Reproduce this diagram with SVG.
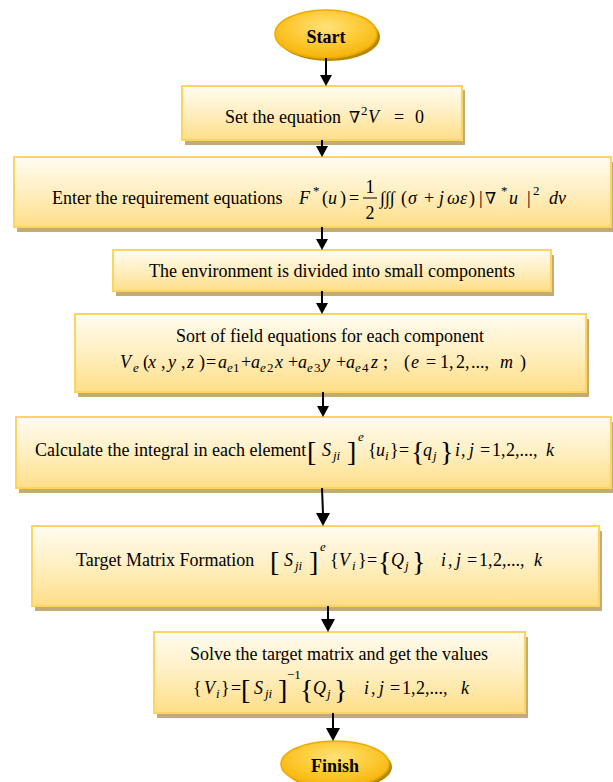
<svg xmlns="http://www.w3.org/2000/svg" width="613" height="782" viewBox="0 0 613 782">
<style>
text{font-family:"Liberation Serif","Times New Roman",serif;font-size:18px;fill:#000}
.b{font-weight:bold}
.i{font-style:italic}
.s{font-size:13px}
.br{font-size:28px}
.nab{font-family:"DejaVu Serif","Liberation Serif",serif;font-size:16px}
.box{fill:url(#boxGrad);stroke:#fcd45e;stroke-width:2}
.sh{fill:#c3ab78}
.ell{fill:url(#ellGrad);stroke:#eeaa00;stroke-width:1.5}
.esh{fill:#b48b00}
.con line{stroke:#000;stroke-width:2}
.con polygon{fill:#000}
</style>
<defs>
<linearGradient id="boxGrad" x1="0" y1="0" x2="0" y2="1">
<stop offset="0" stop-color="#fffcf0"/>
<stop offset="0.45" stop-color="#fff0c6"/>
<stop offset="1" stop-color="#fede88"/>
</linearGradient>
<radialGradient id="ellGrad" cx="0.5" cy="0.35" r="0.7">
<stop offset="0" stop-color="#ffe27a"/>
<stop offset="0.5" stop-color="#fdca35"/>
<stop offset="1" stop-color="#f4b000"/>
</radialGradient>
</defs>

<g id="start">
<ellipse class="esh" cx="329" cy="37" rx="51" ry="24"/>
<ellipse class="ell" cx="326" cy="34" rx="51" ry="24"/>
<text class="b" x="326" y="43" text-anchor="middle">Start</text>
</g>

<g id="n1">
<rect class="sh" x="185" y="90" width="280" height="55"/>
<rect class="box" x="182" y="86" width="280" height="54"/>
<text x="225" y="123">Set the equation<tspan class="nab" x="349">∇</tspan><tspan class="s" x="361" y="115">2</tspan><tspan class="i" x="368" y="123">V</tspan><tspan x="394">=</tspan><tspan x="415">0</tspan></text>
</g>

<g id="n2">
<rect class="sh" x="17" y="162" width="597" height="70"/>
<rect class="box" x="14" y="157" width="597" height="70"/>
<text x="52" y="204">Enter the requirement equations<tspan class="i" x="299">F</tspan><tspan class="s" x="313" y="195">*</tspan><tspan x="322" y="204">(</tspan><tspan class="i" x="328">u</tspan><tspan x="340">)</tspan><tspan x="349">=</tspan></text>
<text x="370" y="193" text-anchor="middle">1</text>
<line x1="363" y1="198" x2="377" y2="198" stroke="#000" stroke-width="1"/>
<text x="370" y="219" text-anchor="middle">2</text>
<text x="380" y="204">∫∫∫<tspan x="401">(</tspan><tspan class="i" x="408">σ</tspan><tspan x="424">+</tspan><tspan class="i" x="439">j</tspan><tspan class="i" x="447">ω</tspan><tspan class="i" x="460">ε</tspan><tspan x="469">)</tspan><tspan x="479">|</tspan><tspan class="nab" x="485">∇</tspan><tspan class="s" x="501" y="195">*</tspan><tspan class="i" x="509" y="204">u</tspan><tspan x="527">|</tspan><tspan class="s" x="533" y="195">2</tspan><tspan class="i" x="549" y="204">dv</tspan></text>
</g>

<g id="n3">
<rect class="sh" x="116" y="255" width="438" height="41"/>
<rect class="box" x="113" y="250" width="438" height="41"/>
<text x="332" y="277" text-anchor="middle">The environment is divided into small components</text>
</g>

<g id="n4">
<rect class="sh" x="78" y="319" width="511" height="78"/>
<rect class="box" x="75" y="314" width="511" height="78"/>
<text x="330" y="342" text-anchor="middle">Sort of field equations for each component</text>
<text x="120" y="368"><tspan class="i">V</tspan><tspan class="s i" x="133" y="372">e</tspan><tspan x="143" y="368">(</tspan><tspan class="i" x="148">x</tspan><tspan x="161">,</tspan><tspan class="i" x="168">y</tspan><tspan x="181">,</tspan><tspan class="i" x="187">z</tspan><tspan x="199">)</tspan><tspan x="206">=</tspan><tspan class="i" x="218">a</tspan><tspan class="s i" x="227" y="372">e</tspan><tspan class="s" x="233">1</tspan><tspan x="241" y="368">+</tspan><tspan class="i" x="251">a</tspan><tspan class="s i" x="260" y="372">e</tspan><tspan class="s" x="267">2</tspan><tspan class="i" x="275" y="368">x</tspan><tspan x="288">+</tspan><tspan class="i" x="298">a</tspan><tspan class="s i" x="307" y="372">e</tspan><tspan class="s" x="314">3</tspan><tspan class="i" x="322" y="368">y</tspan><tspan x="336">+</tspan><tspan class="i" x="346">a</tspan><tspan class="s i" x="355" y="372">e</tspan><tspan class="s" x="362">4</tspan><tspan class="i" x="371" y="368">z</tspan><tspan x="383">;</tspan><tspan x="404">(</tspan><tspan class="i" x="411">e</tspan><tspan x="426">=</tspan><tspan x="440">1,</tspan><tspan x="456">2,</tspan><tspan x="471">...,</tspan><tspan class="i" x="500">m</tspan><tspan x="520">)</tspan></text>
</g>

<g id="n5">
<rect class="sh" x="19" y="422" width="594" height="71"/>
<rect class="box" x="16" y="417" width="595" height="71"/>
<text x="35" y="456">Calculate the integral in each element<tspan class="br" x="307" y="461">[</tspan><tspan class="i" x="322" y="456">S</tspan><tspan class="s i" x="333" y="460">ji</tspan><tspan class="br" x="347" y="461">]</tspan><tspan class="s i" x="358" y="441">e</tspan><tspan x="368" y="456">{</tspan><tspan class="i" x="376">u</tspan><tspan class="s i" x="385" y="460">i</tspan><tspan x="390" y="456">}</tspan><tspan x="399">=</tspan><tspan class="br" x="411" y="461">{</tspan><tspan class="i" x="423" y="456">q</tspan><tspan class="s i" x="433" y="460">j</tspan><tspan class="br" x="440" y="461">}</tspan><tspan class="i" x="455" y="456">i</tspan><tspan x="461">,</tspan><tspan class="i" x="469">j</tspan><tspan x="480">=</tspan><tspan x="492">1,</tspan><tspan x="506">2,...,</tspan><tspan class="i" x="546">k</tspan></text>
</g>

<g id="n6">
<rect class="sh" x="35" y="531" width="567" height="80"/>
<rect class="box" x="32" y="526" width="567" height="80"/>
<text x="76" y="566">Target Matrix Formation<tspan class="br" x="270" y="571">[</tspan><tspan class="i" x="284" y="566">S</tspan><tspan class="s i" x="295" y="570">ji</tspan><tspan class="br" x="309" y="571">]</tspan><tspan class="s i" x="320" y="551">e</tspan><tspan x="330" y="566">{</tspan><tspan class="i" x="339">V</tspan><tspan class="s i" x="352" y="570">i</tspan><tspan x="358" y="566">}</tspan><tspan x="367">=</tspan><tspan class="br" x="378" y="571">{</tspan><tspan class="i" x="391" y="566">Q</tspan><tspan class="s i" x="405" y="570">j</tspan><tspan class="br" x="412" y="571">}</tspan><tspan class="i" x="441" y="566">i</tspan><tspan x="448">,</tspan><tspan class="i" x="456">j</tspan><tspan x="467">=</tspan><tspan x="479">1,</tspan><tspan x="493">2,...,</tspan><tspan class="i" x="534">k</tspan></text>
</g>

<g id="n7">
<rect class="sh" x="157" y="637" width="371" height="81"/>
<rect class="box" x="154" y="632" width="371" height="81"/>
<text x="339" y="660" text-anchor="middle">Solve the target matrix and get the values</text>
<text x="193" y="694">{<tspan class="i" x="204">V</tspan><tspan class="s i" x="216" y="698">i</tspan><tspan x="221" y="694">}</tspan><tspan x="231">=</tspan><tspan class="br" x="241" y="699">[</tspan><tspan class="i" x="254" y="694">S</tspan><tspan class="s i" x="265" y="698">ji</tspan><tspan class="br" x="278" y="699">]</tspan><tspan class="s" x="287" y="679">−1</tspan><tspan class="br" x="300" y="699">{</tspan><tspan class="i" x="313" y="694">Q</tspan><tspan class="s i" x="327" y="698">j</tspan><tspan class="br" x="334" y="699">}</tspan><tspan class="i" x="364" y="694">i</tspan><tspan x="371">,</tspan><tspan class="i" x="379">j</tspan><tspan x="390">=</tspan><tspan x="402">1,</tspan><tspan x="416">2,...,</tspan><tspan class="i" x="461">k</tspan></text>
</g>

<g id="finish">
<ellipse class="esh" cx="338" cy="767" rx="54" ry="23"/>
<ellipse class="ell" cx="335" cy="764" rx="54" ry="23"/>
<text class="b" x="335" y="772" text-anchor="middle">Finish</text>
</g>

<g id="connectors" class="con">
<line x1="326" y1="58" x2="326" y2="76"/><polygon points="320,75 332,75 326,86"/>
<line x1="322" y1="140" x2="322" y2="147"/><polygon points="316,146 328,146 322,157"/>
<line x1="322" y1="227" x2="322" y2="240"/><polygon points="316,239 328,239 322,250"/>
<line x1="322" y1="291" x2="322" y2="304"/><polygon points="316,303 328,303 322,314"/>
<line x1="323" y1="392" x2="323" y2="407"/><polygon points="317,406 329,406 323,417"/>
<line x1="322" y1="488" x2="323" y2="514"/><polygon points="316,513 330,513 323,526"/>
<line x1="328" y1="606" x2="328" y2="620"/><polygon points="321,619 335,619 328,632"/>
<line x1="333" y1="713" x2="333" y2="729"/><polygon points="326,728 340,728 333,741"/>
</g>
</svg>
